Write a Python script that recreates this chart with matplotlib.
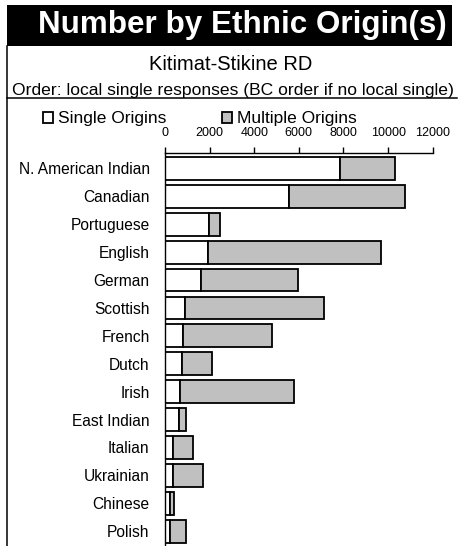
import matplotlib
matplotlib.use("Agg")
import matplotlib.pyplot as plt
from matplotlib.patches import Rectangle
from matplotlib.lines import Line2D

plt.rcParams['font.family'] = ['Liberation Sans', 'DejaVu Sans']

categories = ["N. American Indian", "Canadian", "Portuguese", "English", "German",
              "Scottish", "French", "Dutch", "Irish", "East Indian", "Italian",
              "Ukrainian", "Chinese", "Polish"]
single = [7850, 5575, 1990, 1945, 1600, 895, 820, 760, 675, 645, 375, 345, 225, 225]
total = [10310, 10760, 2480, 9690, 5950, 7115, 4800, 2110, 5800, 925, 1240, 1720, 405, 940]
multiple = [t - s for t, s in zip(total, single)]
xticks = [0, 2000, 4000, 6000, 8000, 10000, 12000]

W, H = 458, 546
fig = plt.figure(figsize=(W / 100, H / 100), dpi=100)

def fx(px):
    return px / W

def fy(py):
    return 1 - py / H

# banner
fig.patches.append(Rectangle((fx(7), fy(46)), fx(452) - fx(7), fy(5) - fy(46),
                             transform=fig.transFigure, facecolor='black',
                             edgecolor='none', zorder=0))
fig.text(fx(242), fy(25), "Number by Ethnic Origin(s)", color='white',
         fontsize=22.6, fontweight='bold', ha='center', va='center')
fig.text(fx(231), fy(70), "Kitimat-Stikine RD", fontsize=14.5, ha='center', va='baseline')
fig.text(fx(233), fy(94.5), "Order: local single responses (BC order if no local single)",
         fontsize=12.6, ha='center', va='baseline')

# border lines
fig.lines.append(Line2D([fx(7), fx(7)], [fy(46), fy(546)], transform=fig.transFigure,
                        color='black', lw=1.1))
fig.lines.append(Line2D([fx(7), fx(457)], [fy(98), fy(98)], transform=fig.transFigure,
                        color='black', lw=1.1))

ax = fig.add_axes([fx(165), 0, fx(432.7) - fx(165), fy(152.7)])
ypos = list(range(len(categories)))
b1 = ax.barh(ypos, single, height=0.82, color='white', edgecolor='black', linewidth=1.3,
             label='Single Origins')
b2 = ax.barh(ypos, multiple, left=single, height=0.82, color='#C0C0C0', edgecolor='black',
             linewidth=1.3, label='Multiple Origins')
ax.set_xlim(0, 12000)
ax.set_ylim(13.53, -0.563)
ax.set_yticks(ypos)
ax.set_yticklabels(categories, fontsize=11.2)
ax.set_xticks(xticks)
ax.set_xticklabels([str(v) for v in xticks], fontsize=9)
ax.xaxis.tick_top()
ax.tick_params(axis='x', direction='out', length=4, width=1, pad=6)
ax.tick_params(axis='y', length=0, pad=11)
for s in ['right', 'bottom']:
    ax.spines[s].set_visible(False)
for s in ['top', 'left']:
    ax.spines[s].set_linewidth(1)

fig.legend(handles=[b1, b2], loc='center', bbox_to_anchor=(fx(200), fy(119)),
           ncol=2, frameon=False, fontsize=12.5, handlelength=0.58, handleheight=0.58,
           handletextpad=0.27, columnspacing=3.2, borderpad=0, borderaxespad=0)

fig.savefig("out.png", dpi=100)
